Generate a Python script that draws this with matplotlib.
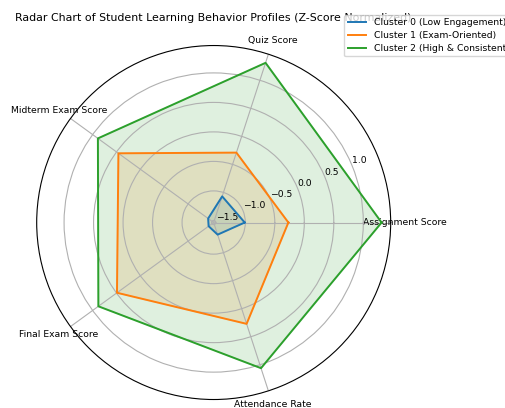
import numpy as np
import matplotlib
matplotlib.use("Agg")
import matplotlib.pyplot as plt

categories = ["Assignment Score", "Quiz Score", "Midterm Exam Score",
              "Final Exam Score", "Attendance Rate"]
series_names = ["Cluster 0 (Low Engagement)", "Cluster 1 (Exam-Oriented)",
                "Cluster 2 (High & Consistent)"]
cluster0 = [-1.01, -1.07, -1.42, -1.43, -1.32]
cluster1 = [-0.27, -0.29, 0.46, 0.49, 0.27]
cluster2 = [1.31, 1.31, 0.89, 0.88, 1.06]
r_ticks = [-1.5, -1.0, -0.5, 0.0, 0.5, 1.0]
title = "Radar Chart of Student Learning Behavior Profiles (Z-Score Normalized)"

colors = ["#1f77b4", "#ff7f0e", "#2ca02c"]
FS = 6.65

fig = plt.figure(figsize=(5.06, 4.08), dpi=100)
ax = fig.add_axes([0.0725, 0.0208, 0.6996, 0.8676], polar=True)

n = len(categories)
angles = np.linspace(0, 2 * np.pi, n, endpoint=False).tolist()
angles_closed = angles + angles[:1]

for vals, name, c in zip([cluster0, cluster1, cluster2], series_names, colors):
    v = list(vals) + vals[:1]
    ax.plot(angles_closed, v, color=c, linewidth=1.4, label=name)
    ax.fill(angles_closed, v, color=c, alpha=0.15)

ax.set_ylim(-1.536, 1.464)
ax.set_yticks(r_ticks)
ax.set_yticklabels([f"{t:.1f}".replace("-", "\u2212") for t in r_ticks], fontsize=FS)
ax.set_xticks(angles)
ax.set_xticklabels(categories, fontsize=FS)
ax.tick_params(axis="x", pad=-0.3)
ax.spines["polar"].set_linewidth(0.8)

ax.set_title(title, fontsize=7.9, y=1.0777, pad=0, va="center")

ax.legend(loc="upper left", bbox_to_anchor=(344 / 506, 1 - 14.7 / 408),
          bbox_transform=fig.transFigure, borderaxespad=0, fontsize=FS,
          labelspacing=0.4)

fig.savefig("out.png", dpi=100)
